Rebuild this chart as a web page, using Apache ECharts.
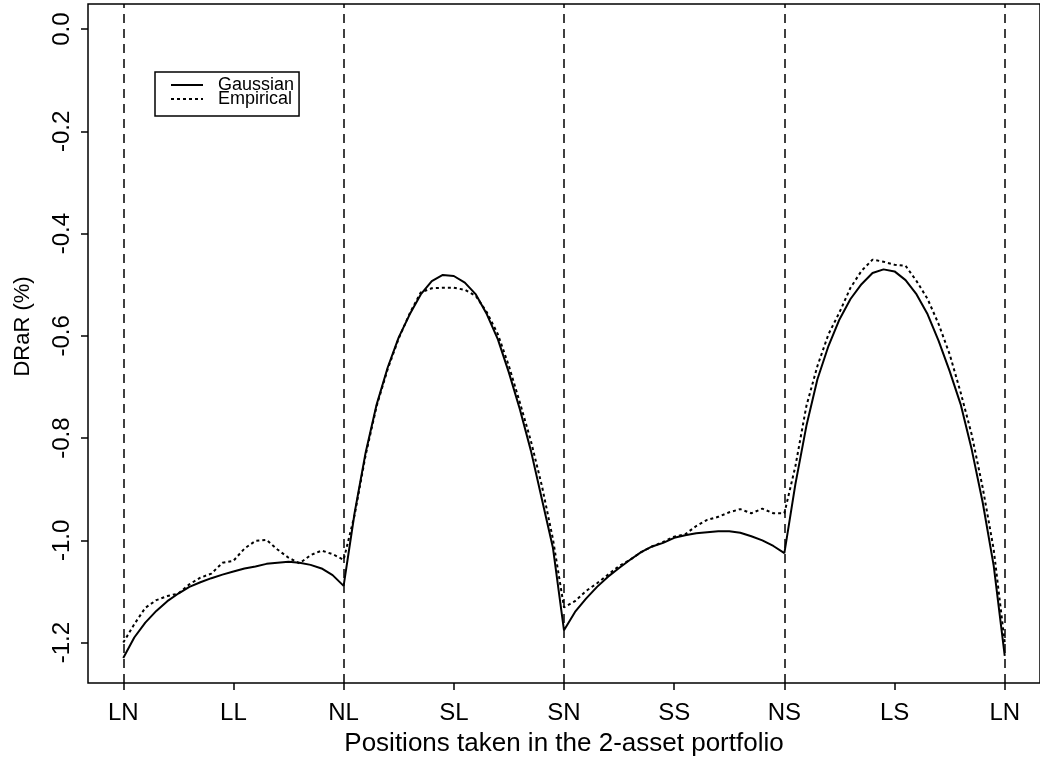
<!DOCTYPE html>
<html>
<head>
<meta charset="utf-8">
<script src="https://cdn.jsdelivr.net/npm/echarts@6/dist/echarts.min.js"></script>
<style>
  html, body { margin: 0; padding: 0; background: #fff; }
  #chart { width: 1040px; height: 766px; }
</style>
</head>
<body>
<div id="chart"></div>
<script>
// Category tick labels and their positions on the x axis
const categories = ['LN', 'LL', 'NL', 'SL', 'SN', 'SS', 'NS', 'LS', 'LN'];
const categoryPositions = [0, 1, 2, 3, 4, 5, 6, 7, 8];
// Dashed separators
const dividerPositions = [0, 2, 4, 6, 8];
// Y ticks
const yTicks = [0, -0.2, -0.4, -0.6, -0.8, -1.0, -1.2];

// Sample positions along the x axis
const positions = [
  0.0, 0.1, 0.2, 0.3, 0.4, 0.5, 0.6, 0.7, 0.8, 0.9,
  1.0, 1.1, 1.2, 1.3, 1.4, 1.5, 1.6, 1.7, 1.8, 1.9,
  2.0, 2.1, 2.2, 2.3, 2.4, 2.5, 2.6, 2.7, 2.8, 2.9,
  3.0, 3.1, 3.2, 3.3, 3.4, 3.5, 3.6, 3.7, 3.8, 3.9,
  4.0, 4.1, 4.2, 4.3, 4.4, 4.5, 4.6, 4.7, 4.8, 4.9,
  5.0, 5.1, 5.2, 5.3, 5.4, 5.5, 5.6, 5.7, 5.8, 5.9,
  6.0, 6.1, 6.2, 6.3, 6.4, 6.5, 6.6, 6.7, 6.8, 6.9,
  7.0, 7.1, 7.2, 7.3, 7.4, 7.5, 7.6, 7.7, 7.8, 7.9,
  8.0
];

// DRaR (%) - Gaussian
const gaussian = [
  -1.230, -1.190, -1.161, -1.138, -1.119, -1.104, -1.091, -1.082, -1.074, -1.067,
  -1.061, -1.055, -1.051, -1.046, -1.044, -1.042, -1.044, -1.048, -1.055, -1.068,
  -1.089, -0.946, -0.828, -0.734, -0.662, -0.603, -0.558, -0.519, -0.493, -0.481,
  -0.483, -0.496, -0.519, -0.558, -0.607, -0.672, -0.744, -0.825, -0.920, -1.015,
  -1.176, -1.140, -1.114, -1.091, -1.071, -1.054, -1.038, -1.023, -1.012, -1.005,
  -0.995, -0.990, -0.986, -0.984, -0.982, -0.982, -0.985, -0.992, -1.000, -1.011,
  -1.025, -0.890, -0.776, -0.685, -0.620, -0.568, -0.528, -0.499, -0.477, -0.470,
  -0.474, -0.491, -0.519, -0.558, -0.610, -0.669, -0.734, -0.822, -0.926, -1.050,
  -1.226
];

// DRaR (%) - Empirical
const empirical = [
  -1.200, -1.164, -1.132, -1.117, -1.109, -1.104, -1.086, -1.073, -1.065, -1.044,
  -1.040, -1.016, -1.001, -0.999, -1.018, -1.034, -1.045, -1.029, -1.020, -1.027,
  -1.038, -0.950, -0.833, -0.737, -0.665, -0.605, -0.556, -0.515, -0.507, -0.506,
  -0.506, -0.510, -0.522, -0.554, -0.597, -0.659, -0.731, -0.806, -0.894, -0.998,
  -1.131, -1.119, -1.099, -1.084, -1.067, -1.050, -1.038, -1.023, -1.012, -1.003,
  -0.993, -0.988, -0.972, -0.960, -0.954, -0.945, -0.939, -0.947, -0.938, -0.947,
  -0.947, -0.855, -0.737, -0.659, -0.597, -0.554, -0.506, -0.473, -0.451, -0.455,
  -0.461, -0.463, -0.493, -0.528, -0.577, -0.636, -0.711, -0.793, -0.897, -1.018,
  -1.200
];

const FONT = '"Liberation Sans", Arial, Helvetica, sans-serif';

const chart = echarts.init(document.getElementById('chart'), null, { renderer: 'canvas' });

const option = {
  animation: false,
  backgroundColor: '#ffffff',
  textStyle: { fontFamily: FONT, color: '#000' },
  grid: {
    left: 88, top: 4, width: 956, height: 679,
    show: true, borderColor: '#000', borderWidth: 1.5, backgroundColor: 'transparent'
  },
  legend: {
    left: 155, top: 72,
    orient: 'vertical',
    borderColor: '#000', borderWidth: 1.5,
    padding: [4, 5, 8, 15],
    itemGap: -4,
    itemWidth: 32, itemHeight: 14,
    itemStyle: { opacity: 0 },
    textStyle: { fontFamily: FONT, fontSize: 18, color: '#000', padding: [0, 0, 0, 10] },
    data: ['Gaussian', 'Empirical']
  },
  xAxis: {
    type: 'value',
    min: -0.32, max: 8.32,
    name: 'Positions taken in the 2-asset portfolio',
    nameLocation: 'middle',
    nameGap: 48,
    nameTextStyle: { fontFamily: FONT, fontSize: 26, color: '#000' },
    axisLine: { show: false, onZero: false },
    axisTick: { show: true, length: 7, customValues: categoryPositions, lineStyle: { color: '#000', width: 1.5 } },
    axisLabel: {
      customValues: categoryPositions,
      margin: 18,
      fontFamily: FONT, fontSize: 24, color: '#000',
      formatter: function (v) { const i = categoryPositions.indexOf(Math.round(v)); return i >= 0 ? categories[i] : ''; }
    },
    splitLine: { show: false }
  },
  yAxis: {
    type: 'value',
    min: -1.279, max: 0.049,
    name: 'DRaR (%)',
    nameLocation: 'middle',
    nameGap: 54,
    nameTextStyle: { fontFamily: FONT, fontSize: 22, color: '#000', padding: [0, 0, 0, 34] },
    axisLine: { show: false, onZero: false },
    axisTick: { show: true, length: 7, customValues: yTicks, lineStyle: { color: '#000', width: 1.5 } },
    axisLabel: {
      customValues: yTicks,
      rotate: 90,
      margin: 14,
      fontFamily: FONT, fontSize: 24, color: '#000',
      formatter: function (v) { return v.toFixed(1); }
    },
    splitLine: { show: false }
  },
  series: [
    {
      name: 'Gaussian',
      type: 'line',
      data: positions.map((x, i) => [x, gaussian[i]]),
      showSymbol: false, symbol: 'none',
      lineStyle: { color: '#000', width: 2, type: 'solid' },
      itemStyle: { color: '#000' },
      z: 3,
      markLine: {
        silent: true,
        symbol: ['none', 'none'],
        label: { show: false },
        lineStyle: { color: '#000', width: 1.5, type: [9, 6] },
        data: dividerPositions.map(p => ({ xAxis: p }))
      }
    },
    {
      name: 'Empirical',
      type: 'line',
      data: positions.map((x, i) => [x, empirical[i]]),
      showSymbol: false, symbol: 'none',
      lineStyle: { color: '#000', width: 2, type: [3, 3] },
      itemStyle: { color: '#000' },
      z: 4
    }
  ]
};

chart.setOption(option);
</script>
</body>
</html>
